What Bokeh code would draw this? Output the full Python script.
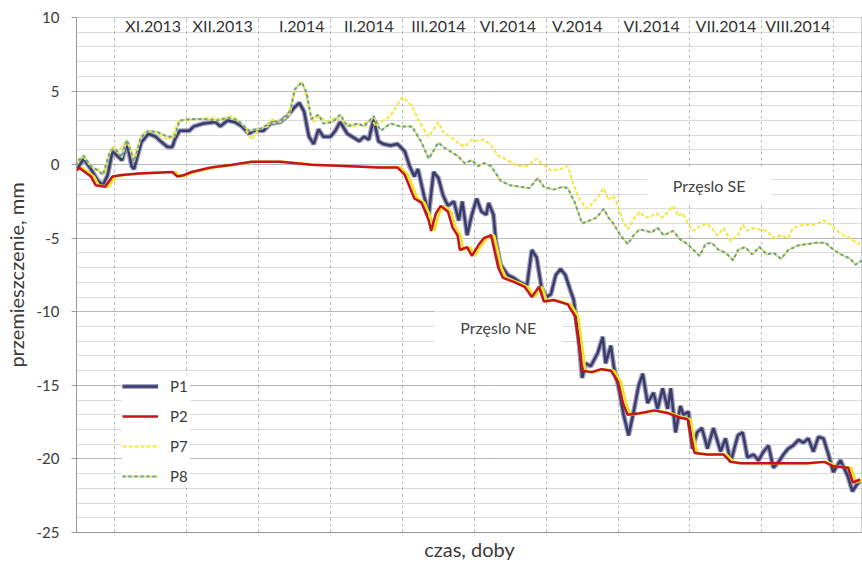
from bokeh.plotting import figure
from bokeh.models import Range1d, FixedTicker, Label, Legend, LegendItem, ColumnDataSource
from bokeh.core.properties import value
from bokeh.transform import dodge
from bokeh.embed import file_html
from bokeh.resources import INLINE

FONT = "Lato"

# ---------------- data ----------------
y_ticks = [-25, -20, -15, -10, -5, 0, 5, 10]
y_minor = list(range(-25, 11))
month_bounds = [16, 46, 76, 106, 136, 166, 196, 226, 256, 286, 316]
month_days = [32, 61, 94, 122, 151, 180, 209, 240, 271, 301]
month_labels = ["XI.2013", "XII.2013", "I.2014", "II.2014", "III.2014",
                "VI.2014", "V.2014", "VI.2014", "VII.2014", "VIII.2014"]

p1_day = [0, 1, 3, 6, 9, 11, 13, 15, 17, 19, 21, 23, 24, 27, 30, 33, 35, 38, 40, 41, 43, 47, 49, 53, 58, 60, 63, 66, 69, 72, 74, 78, 81, 85, 88, 91, 93, 95, 97, 99, 101, 103, 106, 108, 110, 113, 115, 118, 120, 122, 124, 126, 128, 131, 134, 137, 139, 141, 142.5, 145, 147, 149, 151, 153, 155, 157.5, 159.5, 161, 163, 165, 167, 169, 171, 172, 174, 175, 177, 180, 182.5, 185, 188, 190, 192, 194, 196, 198, 200, 202, 204, 206, 207.5, 209.6, 211, 212.5, 214.6, 217.5, 219.6, 220.8, 223, 224.2, 226.3, 228.3, 230.4, 232.5, 234.6, 236.3, 238.3, 240.8, 242.5, 244.6, 246.7, 248, 250, 252, 253.3, 255.4, 257, 259, 261, 263.3, 265.8, 268.8, 270.8, 273, 276, 278, 280, 282.5, 284.6, 286.7, 288.8, 290.8, 293, 295, 297, 299, 301.3, 303.3, 305.4, 307.5, 309.6, 311.7, 313.8, 315.8, 318.8, 321.7, 323.8, 325.8, 327]
p1_mm = [-0.3, -0.1, 0.4, -0.3, -1.1, -1.4, -0.7, 0.9, 0.6, 0.3, 1.5, -0.1, -0.3, 1.5, 2.1, 1.9, 1.6, 1.2, 1.2, 1.7, 2.3, 2.3, 2.6, 2.8, 2.9, 2.6, 3.0, 2.9, 2.6, 2.1, 2.3, 2.3, 2.8, 2.9, 3.3, 3.9, 4.2, 3.6, 1.9, 1.4, 2.4, 1.9, 1.9, 2.3, 2.9, 2.1, 1.9, 1.6, 1.9, 1.7, 3.1, 1.6, 1.4, 1.3, 1.4, 0.9, -0.1, -0.8, -0.3, -2.1, -3.4, -0.5, -0.9, -2.1, -2.8, -2.5, -3.8, -2.5, -4.8, -3.4, -2.3, -3.2, -3.4, -2.6, -3.4, -5.2, -6.8, -7.5, -7.7, -8.0, -8.2, -5.8, -6.3, -8.3, -9.0, -8.8, -7.5, -7.1, -7.5, -8.5, -9.2, -11.9, -14.5, -13.5, -13.7, -12.8, -11.7, -13.5, -12.3, -13.7, -15.2, -17.0, -18.4, -16.8, -15.0, -14.2, -16.2, -15.5, -16.6, -15.2, -16.6, -15.2, -18.2, -16.4, -17.0, -16.8, -19.3, -18.2, -17.9, -19.3, -17.9, -19.5, -18.6, -20.2, -18.4, -18.2, -19.9, -19.7, -20.1, -19.5, -19.1, -20.6, -20.2, -19.7, -19.3, -19.1, -18.7, -18.9, -18.6, -19.5, -18.5, -18.6, -19.7, -20.9, -20.1, -21.1, -22.2, -21.7, -21.5]

p2_day = [0, 1, 6, 8, 12, 15, 19, 26, 40, 42, 45, 48, 56, 65, 73, 81, 85, 98, 112, 126, 134, 137, 139, 141, 144, 147, 148, 150, 152, 155, 157, 159, 160, 163, 165, 168, 170, 173, 176, 178, 183, 187, 190, 193, 195, 199, 205, 208, 210, 211, 215, 219, 223, 226, 228, 230, 235, 241, 247, 252, 255, 257, 258, 263, 270, 273, 277, 291, 305, 312, 316, 322, 324, 327]
p2_mm = [-0.4, -0.2, -0.8, -1.4, -1.5, -0.8, -0.7, -0.6, -0.5, -0.8, -0.7, -0.5, -0.2, 0.0, 0.2, 0.2, 0.2, 0.0, -0.1, -0.2, -0.2, -0.7, -1.5, -2.3, -2.6, -3.8, -4.5, -3.3, -2.8, -3.2, -4.3, -4.8, -5.8, -5.6, -6.2, -5.4, -5.0, -4.8, -7.0, -7.7, -8.0, -8.3, -9.0, -8.3, -9.3, -9.2, -9.5, -10.3, -12.6, -14.0, -14.1, -13.9, -14.0, -14.8, -16.2, -17.0, -16.9, -16.7, -16.9, -17.2, -17.3, -19.1, -19.6, -19.7, -19.7, -20.2, -20.3, -20.3, -20.3, -20.2, -20.5, -20.6, -21.6, -21.4]

p7_day = [0, 1, 3, 6, 9, 12, 13, 15, 17.5, 20, 22, 24, 27, 29, 32.5, 38, 40, 42.5, 47, 51, 56, 60, 65, 67.5, 70, 73, 76, 80, 81, 85, 88, 91, 93, 95, 97, 99, 101, 105, 108, 112, 116, 120, 123, 125, 127, 131, 136, 140, 142.5, 145, 147, 151, 153, 156, 159, 162, 165, 167.5, 170, 173, 176, 180, 184, 188, 192, 194, 198, 202, 205, 207.5, 210, 213, 216, 218, 220, 222, 224, 226, 228, 230, 233, 235, 237.5, 240, 242, 244, 247, 249, 251, 253, 255.4, 257.5, 260, 263, 265, 267.5, 270, 273, 276, 278, 280, 282.5, 285, 288, 291, 294, 297, 299, 303, 307.5, 312, 315, 317.5, 320, 323, 326, 328]
p7_mm = [-0.1, 0.4, 0.5, -0.1, -0.3, -0.6, 0.4, 1.2, 0.9, 1.5, 1.3, 0.6, 1.9, 2.3, 2.2, 1.7, 1.9, 3.0, 3.0, 3.1, 3.2, 3.1, 3.3, 3.0, 2.6, 1.7, 2.4, 2.6, 3.1, 2.9, 3.3, 4.9, 5.6, 5.2, 3.8, 2.9, 3.3, 2.9, 3.2, 2.9, 2.6, 2.8, 3.1, 2.6, 2.9, 3.3, 4.6, 4.0, 3.1, 2.4, 1.9, 2.9, 2.2, 1.9, 1.5, 1.2, 1.7, 1.6, 1.7, 1.3, 0.6, 0.3, -0.1, -0.1, 0.4, 0.1, -0.4, -0.3, -0.1, -1.4, -2.4, -3.0, -2.5, -2.1, -1.6, -2.4, -2.1, -2.8, -3.8, -4.4, -3.6, -3.2, -3.6, -3.5, -3.3, -3.6, -3.2, -2.8, -3.5, -3.3, -4.1, -4.5, -4.2, -4.0, -4.3, -4.8, -4.3, -5.2, -4.8, -4.1, -4.5, -4.3, -4.4, -4.5, -5.0, -4.8, -5.0, -4.3, -4.1, -4.1, -3.8, -4.1, -4.5, -4.8, -5.0, -5.4, -5.2]

p8_day = [0, 1, 3, 6, 9, 11, 14, 16, 19, 21, 24, 27, 30, 34, 38, 41, 43, 48, 53, 59, 63, 67.5, 72, 76, 81, 85, 89, 91, 94, 96, 98, 101, 103, 107, 110, 113, 117.5, 120, 124, 126, 127, 131, 135, 140, 144, 147, 151, 153, 156, 159, 162, 165, 167.5, 170, 173, 177, 181, 185, 189, 192.5, 195, 199, 203, 205, 208, 211, 214, 217, 220, 222, 224, 227, 230, 232.5, 235, 240, 242.5, 245, 249, 252, 255, 257.5, 260, 262.5, 265, 268, 271, 274, 276, 279, 282, 285, 288, 291, 294, 297, 301, 305, 309, 312.5, 316, 319, 323, 325, 328]
p8_mm = [-0.1, 0.3, 0.6, -0.1, -0.4, -0.7, 0.9, 1.1, 0.5, 1.7, 0.2, 1.9, 2.3, 2.2, 1.9, 1.9, 3.0, 3.1, 3.1, 3.0, 3.2, 3.0, 2.3, 2.4, 2.8, 2.9, 3.4, 5.1, 5.6, 4.9, 3.1, 3.4, 2.8, 2.9, 3.4, 2.6, 2.8, 2.6, 3.3, 2.6, 2.3, 2.8, 2.6, 2.6, 1.5, 0.4, 1.5, 1.2, 0.9, 0.6, 0.1, 0.3, -0.1, 0.1, -0.1, -1.1, -1.4, -1.5, -1.6, -0.9, -1.5, -1.7, -1.5, -1.6, -2.6, -4.0, -3.8, -3.6, -3.0, -3.6, -4.0, -4.8, -5.4, -4.8, -4.4, -4.6, -4.3, -4.8, -4.5, -5.1, -5.4, -5.8, -6.2, -5.4, -5.3, -5.8, -6.0, -6.5, -5.8, -5.6, -6.1, -5.6, -6.1, -6.0, -6.4, -5.8, -5.5, -5.4, -5.3, -5.3, -5.8, -6.1, -6.4, -6.8, -6.5]

notes = ["Przęslo SE", "Przęslo NE"]
note_day = [264, 176]
note_mm = [-1.4, -11.1]

# ---------------- figure ----------------
p = figure(width=862, height=563, output_backend="svg", toolbar_location=None,
           x_range=Range1d(0, 328), y_range=Range1d(-25, 10),
           min_border_left=75, min_border_right=0, min_border_top=17, min_border_bottom=25,
           background_fill_color="white", border_fill_color="white")
p.outline_line_color = "#a0a0a0"
p.outline_line_dash = "1 1"

# y axis
yax = p.yaxis[0]
yax.ticker = FixedTicker(ticks=y_ticks, minor_ticks=y_minor)
yax.major_label_overrides = {t: str(t) for t in y_ticks}
yax.major_label_text_font = FONT
yax.major_label_text_font_size = "15px"
yax.major_label_text_color = "#3a3a3a"
yax.major_label_standoff = 12
yax.major_tick_out = 5
yax.major_tick_in = 0
yax.minor_tick_out = 0
yax.minor_tick_in = 0
yax.major_tick_line_color = "#999999"
yax.axis_line_color = "#9a9a9a"
yax.axis_label = "przemieszczenie, mm"
yax.axis_label_text_font = FONT
yax.axis_label_text_font_size = "20px"
yax.axis_label_text_font_style = "normal"
yax.axis_label_text_color = "#3a3a3a"
yax.axis_label_standoff = 6

# x axis
xax = p.xaxis[0]
xax.ticker = FixedTicker(ticks=[])
xax.major_tick_out = 0
xax.major_tick_in = 0
xax.minor_tick_out = 0
xax.minor_tick_in = 0
xax.major_label_standoff = 0
xax.axis_line_color = "#9a9a9a"
xax.axis_label = "czas, doby"
xax.axis_label_text_font = FONT
xax.axis_label_text_font_size = "20px"
xax.axis_label_text_font_style = "normal"
xax.axis_label_text_color = "#3a3a3a"
xax.axis_label_standoff = 4

# grids
p.ygrid.grid_line_color = "#949494"
p.ygrid.grid_line_dash = "1 1"
p.ygrid.minor_grid_line_color = "#b6b6b6"
p.ygrid.minor_grid_line_dash = "1 1"
p.xgrid.ticker = FixedTicker(ticks=month_bounds)
p.xgrid.grid_line_color = "#b8b8b8"
p.xgrid.grid_line_dash = "3 3"

# month labels
msrc = ColumnDataSource(dict(day=month_days, label=month_labels))
p.text(x="day", y=9.45, text="label", source=msrc, text_font=value(FONT),
       text_font_size="16px", text_align="center", text_baseline="middle",
       text_color="#333333")

# series
s1 = ColumnDataSource(dict(day=p1_day, mm=p1_mm))
s2 = ColumnDataSource(dict(day=p2_day, mm=p2_mm))
s7 = ColumnDataSource(dict(day=p7_day, mm=p7_mm))
s8 = ColumnDataSource(dict(day=p8_day, mm=p8_mm))

r1a = p.line("day", "mm", source=s1, line_color="#8e8eb8", line_width=5, line_alpha=0.85)
r1b = p.line("day", "mm", source=s1, line_color="#3b3b68", line_width=2.5)
r2y = p.line(x=dodge("day", 1.3, range=p.x_range), y="mm", source=s2,
             line_color="#f2e41c", line_width=2.5)
r2 = p.line("day", "mm", source=s2, line_color="#c4141c", line_width=2.5)
r7 = p.line("day", "mm", source=s7, line_color="#f2e640", line_width=2, line_dash="4 2")
r8a = p.line("day", "mm", source=s8, line_color="#e4e070", line_width=2)
r8b = p.line("day", "mm", source=s8, line_color="#5e9ea6", line_width=2, line_dash="3 3")

# notes
for t, d, m in zip(notes, note_day, note_mm):
    p.add_layout(Label(x=d, y=m, text=t, text_font=FONT, text_font_size="16px",
                       text_color="#444444", text_align="center", text_baseline="middle",
                       background_fill_color="white",
                       padding=dict(left=26, right=26, top=7, bottom=7)))

legend = Legend(items=[LegendItem(label="P1", renderers=[r1a, r1b]),
                       LegendItem(label="P2", renderers=[r2]),
                       LegendItem(label="P7", renderers=[r7]),
                       LegendItem(label="P8", renderers=[r8a, r8b])],
                location=(46, 45), orientation="vertical",
                background_fill_color="white", background_fill_alpha=1.0,
                border_line_color=None, padding=6, margin=0,
                glyph_width=36, glyph_height=22, label_height=22, spacing=8,
                label_standoff=12, label_text_font=FONT, label_text_font_size="15px",
                label_text_color="#3a3a3a")
p.add_layout(legend)

open("out.html", "w").write(file_html(p, INLINE))
